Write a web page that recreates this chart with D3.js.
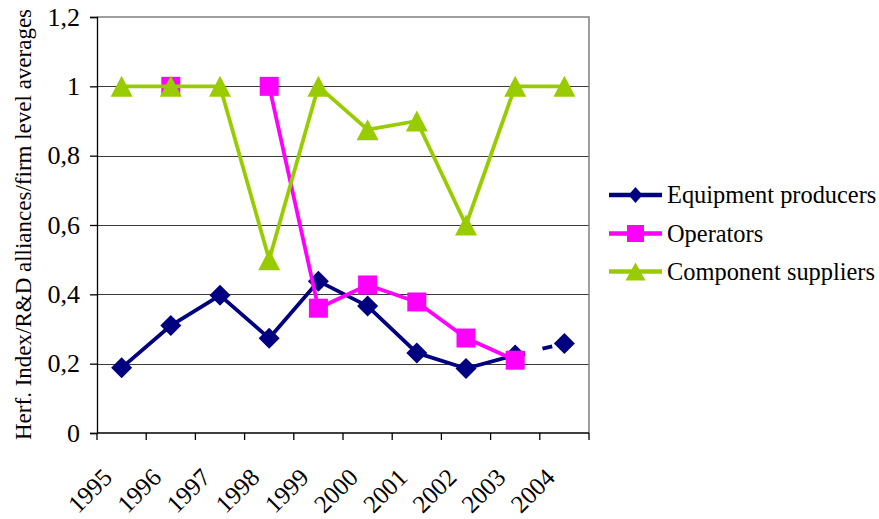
<!DOCTYPE html>
<html>
<head>
<meta charset="utf-8">
<script src="https://cdn.jsdelivr.net/npm/d3@7/dist/d3.min.js"></script>
<style>
  html, body { margin: 0; padding: 0; background: #fff; }
  svg { display: block; font-family: "Liberation Serif", "Times New Roman", serif; }
</style>
</head>
<body>
<svg id="chart" width="879" height="519"></svg>
<script>
const years = ["1995","1996","1997","1998","1999","2000","2001","2002","2003","2004"];
const equipment = [0.188, 0.31, 0.397, 0.273, 0.438, 0.366, 0.231, 0.186, 0.225, 0.258];
const operators = [null, 1.0, null, 1.0, 0.36, 0.427, 0.378, 0.274, 0.21, null];
const component = [1.0, 1.0, 1.0, 0.5, 1.0, 0.875, 0.9, 0.6, 1.0, 1.0];
const yTicks = [0, 0.2, 0.4, 0.6, 0.8, 1.0, 1.2];
const seriesNames = ["Equipment producers", "Operators", "Component suppliers"];
const yTitle = "Herf. Index/R&D alliances/firm level averages";

const colors = ["#000080", "#FF00FF", "#99CC00"];
const shapes = ["diamond", "square", "triangle"];

const svg = d3.select("#chart");
const pLeft = 97, pRight = 589, pTop = 17, pBottom = 433;

const x = d3.scaleBand().domain(years).range([pLeft, pRight]).padding(0);
const cx = d => x(d) + x.bandwidth() / 2;
const y = d3.scaleLinear().domain([0, 1.2]).range([pBottom, pTop]);

const loc = d3.formatLocale({decimal: ",", thousands: ".", grouping: [3], currency: ["", ""]});
const fmt = loc.format(".1~f");

// gridlines
svg.append("g").selectAll("line").data(yTicks.filter(t => t > 0 && t < 1.2)).join("line")
  .attr("x1", pLeft).attr("x2", pRight)
  .attr("y1", d => Math.round(y(d)) + 0.5).attr("y2", d => Math.round(y(d)) + 0.5)
  .attr("stroke", "#3a3a3a").attr("stroke-width", 1.2);

// plot border top/right
svg.append("path")
  .attr("d", `M${pLeft},${y(1.2)}H${pRight}V${pBottom}`)
  .attr("fill", "none").attr("stroke", "#808080").attr("stroke-width", 1.5);

// y axis
const yAxis = d3.axisLeft(y).tickValues(yTicks).tickFormat(fmt).tickSize(7).tickPadding(10);
const gy = svg.append("g").attr("transform", `translate(${pLeft},0)`).call(yAxis);
gy.attr("font-family", "Liberation Serif");
gy.select(".domain").attr("stroke", "#000").attr("stroke-width", 1.3);
gy.selectAll(".tick line").attr("stroke", "#000").attr("stroke-width", 1.3);
gy.selectAll(".tick text").attr("font-size", 26).attr("fill", "#000");

// x axis
svg.append("line").attr("x1", pLeft).attr("x2", pRight).attr("y1", pBottom).attr("y2", pBottom)
  .attr("stroke", "#000").attr("stroke-width", 1.3);
const bounds = years.map(d => x(d)).concat([pRight]);
svg.append("g").selectAll("line").data(bounds).join("line")
  .attr("x1", d => d).attr("x2", d => d).attr("y1", pBottom).attr("y2", pBottom + 7)
  .attr("stroke", "#000").attr("stroke-width", 1.3);
svg.append("g").selectAll("text").data(years).join("text")
  .attr("transform", d => `translate(${cx(d) - 8},${479}) rotate(-45)`)
  .attr("text-anchor", "end")
  .attr("font-size", 25)
  .text(d => d);

// y title
svg.append("text")
  .attr("transform", `translate(31,440) rotate(-90)`)
  .attr("text-anchor", "start")
  .attr("font-size", 23)
  .text(yTitle);

function marker(sel, shape, color) {
  if (shape === "diamond") {
    sel.append("path").attr("d", "M0,-10.5L10.5,0L0,10.5L-10.5,0Z").attr("fill", color);
  } else if (shape === "square") {
    sel.append("rect").attr("x", -9.5).attr("y", -9.5).attr("width", 19).attr("height", 19).attr("fill", color);
  } else {
    sel.append("path").attr("d", "M0,-10.5L11,10.5L-11,10.5Z").attr("fill", color);
  }
}

const allSeries = [equipment, operators, component];
const line = d3.line().defined(d => d.v !== null).x(d => cx(d.k)).y(d => y(d.v));

allSeries.forEach((vals, i) => {
  const pts = years.map((k, j) => ({k, v: vals[j]}));
  const g = svg.append("g");
  if (i === 0) {
    g.append("path").datum(pts.slice(0, 9)).attr("d", line)
      .attr("fill", "none").attr("stroke", colors[i]).attr("stroke-width", 3.8).attr("stroke-linejoin", "round");
    g.append("path").datum(pts.slice(8, 10)).attr("d", line)
      .attr("fill", "none").attr("stroke", colors[i]).attr("stroke-width", 3.8)
      .attr("stroke-dasharray", "10,18");
  } else {
    g.append("path").datum(pts).attr("d", line)
      .attr("fill", "none").attr("stroke", colors[i]).attr("stroke-width", 3.8).attr("stroke-linejoin", "round");
  }
  pts.filter(p => p.v !== null).forEach(p => {
    const m = g.append("g").attr("transform", `translate(${cx(p.k)},${y(p.v)})`);
    marker(m, shapes[i], colors[i]);
  });
});

// legend
const legY = [195, 233.5, 271.5];
seriesNames.forEach((name, i) => {
  const g = svg.append("g").attr("transform", `translate(0,${legY[i]})`);
  g.append("line").attr("x1", 609).attr("x2", 662).attr("y1", 0).attr("y2", 0)
    .attr("stroke", colors[i]).attr("stroke-width", 4.5);
  const m = g.append("g").attr("transform", `translate(635.5,0)`);
  if (shapes[i] === "diamond") m.append("path").attr("d", "M0,-8L7,0L0,8L-7,0Z").attr("fill", colors[i]);
  else if (shapes[i] === "square") m.append("rect").attr("x", -8.5).attr("y", -8.5).attr("width", 17).attr("height", 17).attr("fill", colors[i]);
  else m.append("path").attr("d", "M0,-9L10,9L-10,9Z").attr("fill", colors[i]);
  g.append("text").attr("x", 667).attr("y", 8).attr("font-size", 24.4).text(name);
});
</script>
</body>
</html>
